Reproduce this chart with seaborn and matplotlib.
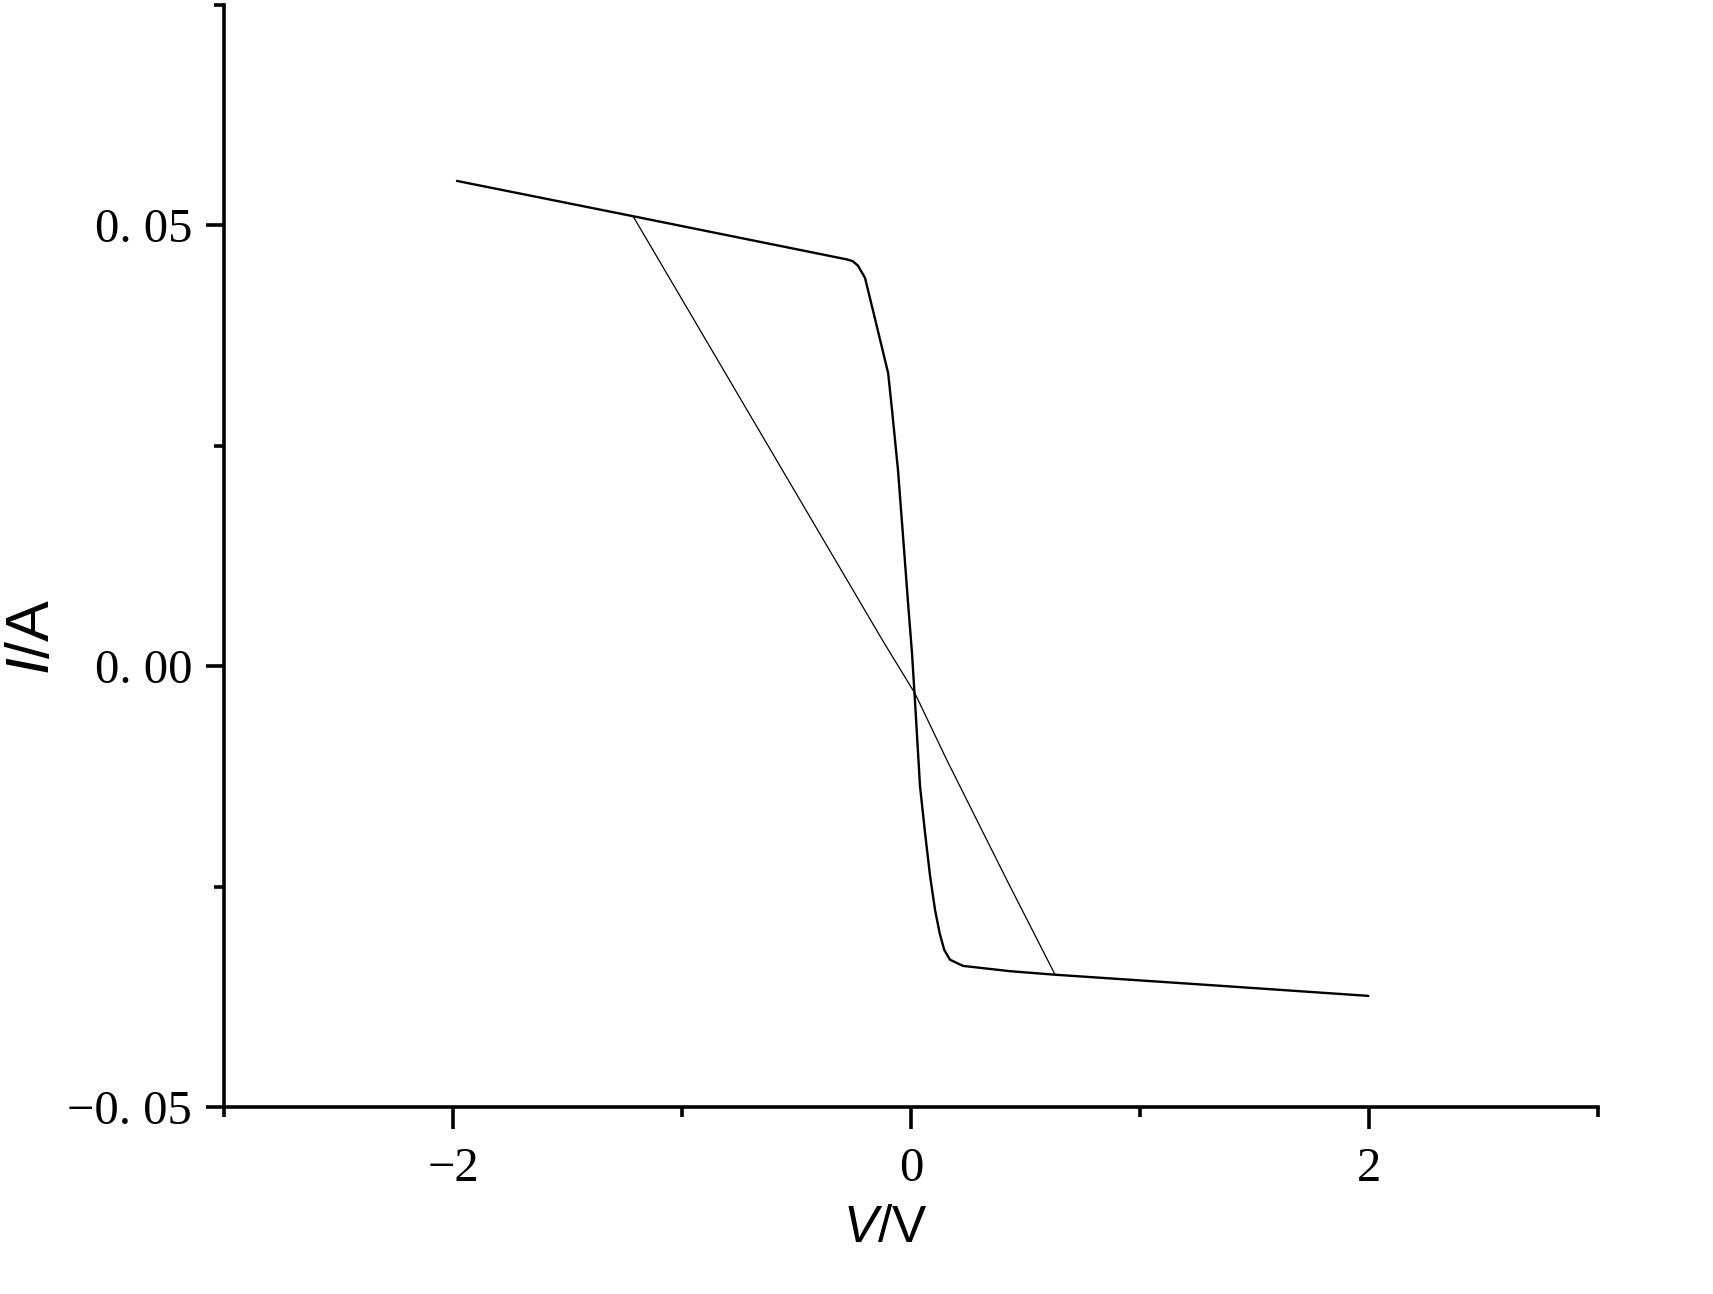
import numpy as np
import pandas as pd
import matplotlib
matplotlib.use("Agg")
import matplotlib.pyplot as plt
import seaborn as sns

# I-V sweep, steep S-shaped trace (V in volts, I in amps)
sweep_v = [-1.983, -1.214, -0.280, -0.255, -0.232, -0.201, -0.153, -0.100, -0.083,
           -0.057, -0.035, -0.013, 0.004, 0.017, 0.039, 0.061, 0.083,
           0.105, 0.125, 0.145, 0.170, 0.227, 0.432, 0.629, 1.319, 1.997]
sweep_i = [0.0550, 0.0510, 0.0461, 0.0459, 0.0454, 0.0440, 0.0389, 0.0332, 0.0290,
           0.0222, 0.0147, 0.0071, 0.0015, -0.0039, -0.0136, -0.0189, -0.0238,
           -0.0277, -0.0303, -0.0322, -0.0333, -0.0340, -0.0346, -0.0350, -0.0362, -0.0374]

# straight diagonal trace
diag_v = [-1.214, -0.122, 0.017, 0.157, 0.419, 0.629]
diag_i = [0.0510, 0.0028, -0.0031, -0.0107, -0.0243, -0.0350]

x_major = [-2, 0, 2]
x_minor = [-3, -1, 1, 3]
x_labels = ["−2", "0", "2"]
y_major = [-0.05, 0.0, 0.05]
y_minor = [-0.025, 0.025, 0.075]
y_labels = ["−0. 05", "0. 00", "0. 05"]

sns.set_style("ticks")
plt.rcParams["mathtext.fontset"] = "custom"
plt.rcParams["mathtext.rm"] = "Liberation Sans"
plt.rcParams["mathtext.it"] = "Liberation Sans:italic"
plt.rcParams["text.color"] = "black"
plt.rcParams["axes.labelcolor"] = "black"
plt.rcParams["xtick.color"] = "black"
plt.rcParams["ytick.color"] = "black"

fig = plt.figure(figsize=(17.13, 12.94), dpi=100)
ax = fig.add_axes([0.1308, 0.1445, 0.8021, 0.852])

sweep = pd.DataFrame({"V": sweep_v, "I": sweep_i})
diag = pd.DataFrame({"V": diag_v, "I": diag_i})
sns.lineplot(data=sweep, x="V", y="I", sort=False, estimator=None,
             color="black", linewidth=1.7, ax=ax)
sns.lineplot(data=diag, x="V", y="I", sort=False, estimator=None,
             color="black", linewidth=0.9, ax=ax)

ax.set_xlim(-3, 3)
ax.set_ylim(-0.05, 0.075)
sns.despine(ax=ax)
for side in ["left", "bottom"]:
    ax.spines[side].set_linewidth(2.6)
    ax.spines[side].set_color("black")

ax.set_xticks(x_major)
ax.set_xticks(x_minor, minor=True)
ax.set_xticklabels(x_labels)
ax.set_yticks(y_major)
ax.set_yticks(y_minor, minor=True)
ax.set_yticklabels(y_labels)

ax.tick_params(axis="x", which="major", direction="out", length=16, width=2.6,
               pad=13, labelsize=35, colors="black")
ax.tick_params(axis="y", which="major", direction="out", length=13, width=2.6,
               pad=10, labelsize=35, colors="black")
ax.tick_params(which="minor", direction="out", length=7, width=2.6, color="black")
for lab in ax.get_xticklabels() + ax.get_yticklabels():
    lab.set_fontfamily("Liberation Serif")

ax.set_xlabel(r"$V$/V", fontsize=37, fontfamily="Liberation Sans", color="black")
ax.set_ylabel(r"$I$/A", fontsize=44, fontfamily="Liberation Sans", color="black")
ax.xaxis.set_label_coords(0.481, -0.088)
ax.yaxis.set_label_coords(-0.118, 0.427)

fig.savefig("out.png", dpi=100, facecolor="white")
